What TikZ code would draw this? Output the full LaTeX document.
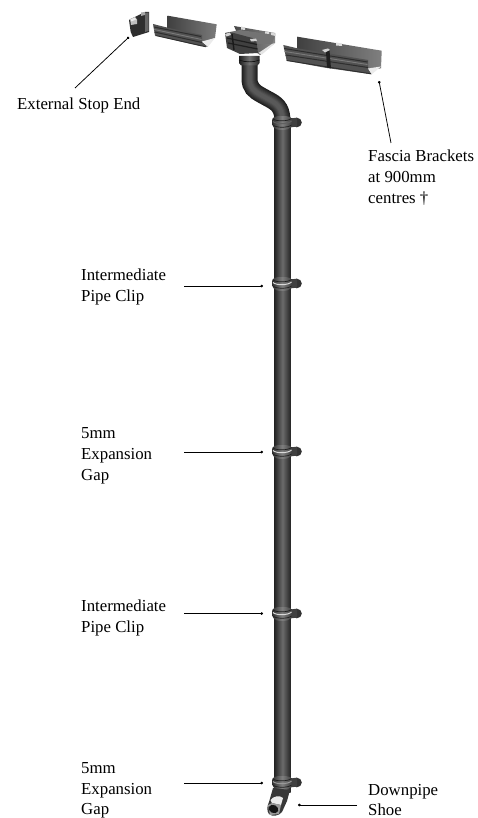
\documentclass[tikz,border=0pt]{standalone}
\usepackage{fontspec}
\setmainfont{Liberation Serif}
\usetikzlibrary{arrows.meta}
\definecolor{pipeA}{gray}{0.14}
\definecolor{pipeB}{gray}{0.42}
\tikzset{
  x=1pt,y=-1pt,
  lbl/.style={anchor=base west,inner sep=0pt,font=\fontsize{16.8}{20}\selectfont},
  lead/.style={line width=0.75pt,black,-{Circle[length=2.6pt,width=2.6pt]},shorten >=0pt},
  pipeshade/.style={left color=pipeA,right color=pipeA,middle color=pipeB,shading angle=90,draw=none},
  ridge/.style={line width=1pt,black!82},
  ridgelight/.style={line width=0.9pt,black!52},
  lightbit/.style={fill=black!8,draw=none},
}
\newcommand{\pipeclipat}[2]{%
  \begin{scope}[shift={(0,#1)}]
    \fill[black!80] (296.8,0.5) ellipse (5 and 4.8);
    \fill[black!75] (290,-3.5) -- (297,-4.3) -- (297,4.5) -- (290,5.5) -- cycle;
    \path[left color=black!82,right color=black!78,middle color=black!50,shading angle=90]
      (272,-1) .. controls (272,-5) and (275,-6) .. (282,-6)
      .. controls (289,-6) and (292.5,-5) .. (292.5,-1)
      .. controls (292.5,4) and (291,8) .. (282,8)
      .. controls (273,8) and (272,4) .. (272,-1) -- cycle;
    \draw[line width=1pt,black!#2] (273,-0.5) .. controls (276,2.5) and (288,2.5) .. (291.5,-1);
    \draw[line width=0.7pt,black!88] (273,-3) .. controls (276,-0.5) and (288,-0.5) .. (291.5,-3.5);
    \draw[line width=0.7pt,black!88] (272.8,3) .. controls (276,6) and (288,6) .. (291.5,3);
  \end{scope}}
\begin{document}
\begin{tikzpicture}
\useasboundingbox (0,0) rectangle (478,818);
\fill[white] (0,0) rectangle (478,818);

% stop end
\fill[black!82] (129,20) -- (145,12) -- (149,12) -- (149,32) -- (133,37) -- (130.7,32) -- cycle;
\fill[black!60] (145,13) -- (148.5,12.5) -- (148.5,31) -- (145,32) -- cycle;
\fill[black!25] (130,19) -- (135,17) -- (137,19.5) -- (137,24) -- (131,25) -- cycle;
\fill[lightbit] (130.5,19.5) -- (135,17.5) -- (136,19.5) -- (131.5,21.5) -- cycle;
\fill[black!35] (141,12.5) -- (145,12) -- (145,15) -- (141,16) -- cycle;

% left gutter
\path[left color=black!75,right color=black!52,draw=none] (167.7,15.7) -- (216.7,24.3) -- (215,38) -- (203,42) -- (167.7,30) -- cycle;
\fill[black!68] (153,24) -- (167.7,27.7) -- (202,35) -- (202,42) -- (208,46.7) -- (200,46) -- (155,35.5) -- cycle;
\fill[lightbit] (202,41.5) -- (215,38) -- (208,46.7) -- cycle;
\draw[ridge] (153.8,27) -- (201,36.5);
\draw[ridgelight] (154.2,29.5) -- (201.5,39.5);
\draw[ridge] (154.5,32) -- (202,42.5);
\draw[line width=0.9pt,black!82] (155.5,35.5) -- (206,46.8);

% outlet piece
\path[left color=black!72,right color=black!48,draw=none] (234,26) -- (275,33) -- (275,43) -- (260,55) -- (240,40) -- cycle;
\fill[black!55] (230,32) -- (240,30) -- (275,35) -- (272,44) -- (258,44) -- cycle;
\fill[black!75] (225,33) -- (230,32) -- (256,39) -- (258,53) -- (240,54) -- (227,48) -- cycle;
\draw[line width=1.2pt,black!88] (227,38) -- (257,44.5);
\draw[line width=1.2pt,black!88] (228,43) -- (257.5,49);
\draw[line width=1.4pt,black!90] (232,34) -- (234,50);
\fill[black!18] (225,34) -- (230,32.5) -- (231,35) -- (226.5,36.5) -- cycle;
\fill[black!18] (250,39) -- (256,38.5) -- (257,41) -- (251,41.5) -- cycle;
\fill[black!10] (258.5,53) -- (272,44) -- (275,43) -- (262,54.5) -- cycle;
\fill[black!15] (241,26.5) -- (245,27.5) -- (245,30) -- (241,29.5) -- cycle;
\fill[black!15] (265,31.5) -- (269,32) -- (269,34) -- (265,33.5) -- cycle;
\fill[black!15] (271,32.5) -- (275.5,33.5) -- (275.5,36) -- (271,35) -- cycle;

% right gutter
\path[left color=black!75,right color=black!50,draw=none] (297.3,36.7) -- (381.7,50.7) -- (381,68.3) -- (371,70) -- (297.3,52) -- cycle;
\fill[black!68] (283.3,45) -- (297.3,48.3) -- (368,60) -- (368,68) -- (371.7,74.3) -- (325,67.7) -- (286.7,60.7) -- cycle;
\fill[lightbit] (368,68.5) -- (381,66.5) -- (371.7,74.3) -- cycle;
\draw[ridge] (284,48.5) -- (367.5,62);
\draw[ridgelight] (284.5,51.5) -- (367.5,64.5);
\draw[ridge] (285.5,55) -- (368,67.5);
\draw[line width=0.9pt,black!82] (286.7,60.5) -- (371,73.8);
\fill[black!12] (336,42.5) -- (342,43.5) -- (342,46) -- (336,45.5) -- cycle;
\fill[black!88] (326,52) -- (329.5,50.5) -- (331,68.5) -- (327,67.5) -- cycle;
\fill[black!18] (322,50) -- (328,48.5) -- (330,50) -- (325,52.5) -- cycle;

% swan neck: layered strokes stand in for the tube's shading
\foreach \w/\k in {16/88,14/84,12/80,10/76,8/72,6/68,4/65}{
  \draw[line width=\w pt,black!\k,line cap=butt]
    (249.5,60) -- (249.5,78) .. controls (249.5,88) and (254,91) .. (261,95)
    -- (271,100.5) .. controls (279,105) and (282.5,110) .. (282.5,122);
}
% socket under the outlet
\path[left color=black!88,right color=black!85,middle color=black!55,shading angle=90]
  (239,56) -- (259.5,56) -- (259.5,63) -- (257.5,65.5) -- (241,65.5) -- (239,63) -- cycle;
\draw[line width=0.7pt,black!92] (239,60) .. controls (245,62.5) and (254,62.5) .. (259.5,60);
% main pipe
\shade[pipeshade] (274.3,122) rectangle (290.7,792);
% clips
\pipeclipat{122}{62}
\pipeclipat{283}{15}
\pipeclipat{451}{15}
\pipeclipat{613}{15}
\pipeclipat{782}{40}
% shoe
\fill[black!78] (273,788) -- (290,790) -- (287,801) -- (282,812) .. controls (279,816) and (272,817) .. (269,814)
  .. controls (266.5,811) and (267,806) .. (269,802) -- cycle;
\fill[black!8] (270.5,800) .. controls (273,796) and (280,795) .. (283,798) -- (281,805) -- (272,803) -- cycle;
\fill[black!40] (268,805) -- (272,803) -- (281,805) -- (279,814) -- (270,815) -- cycle;
\fill[black!92,rotate around={-25:(273.5,809)}] (273.5,809) ellipse (5 and 4);

% labels
\node[lbl] (stop) at (17,110) {External Stop End};
\node[lbl] (fa) at (368,162) {Fascia Brackets};
\node[lbl] (fb) at (368,183) {at 900mm};
\node[lbl] (fc) at (368,204) {centres †};
\node[lbl] (ia) at (81,280) {Intermediate};
\node[lbl] (ib) at (81,301) {Pipe Clip};
\node[lbl] (ga) at (81,438) {5mm};
\node[lbl] (gb) at (81,459) {Expansion};
\node[lbl] (gc) at (81,480) {Gap};
\node[lbl] (ja) at (81,611) {Intermediate};
\node[lbl] (jb) at (81,632) {Pipe Clip};
\node[lbl] (ha) at (81,773) {5mm};
\node[lbl] (hb) at (81,794) {Expansion};
\node[lbl] (hc) at (81,814) {Gap};
\node[lbl] (da) at (368,795) {Downpipe};
\node[lbl] (db) at (368,815) {Shoe};

% leaders
\coordinate (c1s) at (75,88);   \coordinate (c1e) at (129,37);
\coordinate (c2s) at (391,143); \coordinate (c2e) at (379,81);
\coordinate (c3s) at (184,286); \coordinate (c3e) at (263,286);
\coordinate (c4s) at (184,452); \coordinate (c4e) at (263,452);
\coordinate (c5s) at (184,613.5); \coordinate (c5e) at (263,613.5);
\coordinate (c6s) at (184,783); \coordinate (c6e) at (263,783);
\coordinate (c7s) at (357,805); \coordinate (c7e) at (298,805);
\foreach \i in {1,...,7}{\draw[lead] (c\i s) -- (c\i e);}
\end{tikzpicture}
\end{document}
